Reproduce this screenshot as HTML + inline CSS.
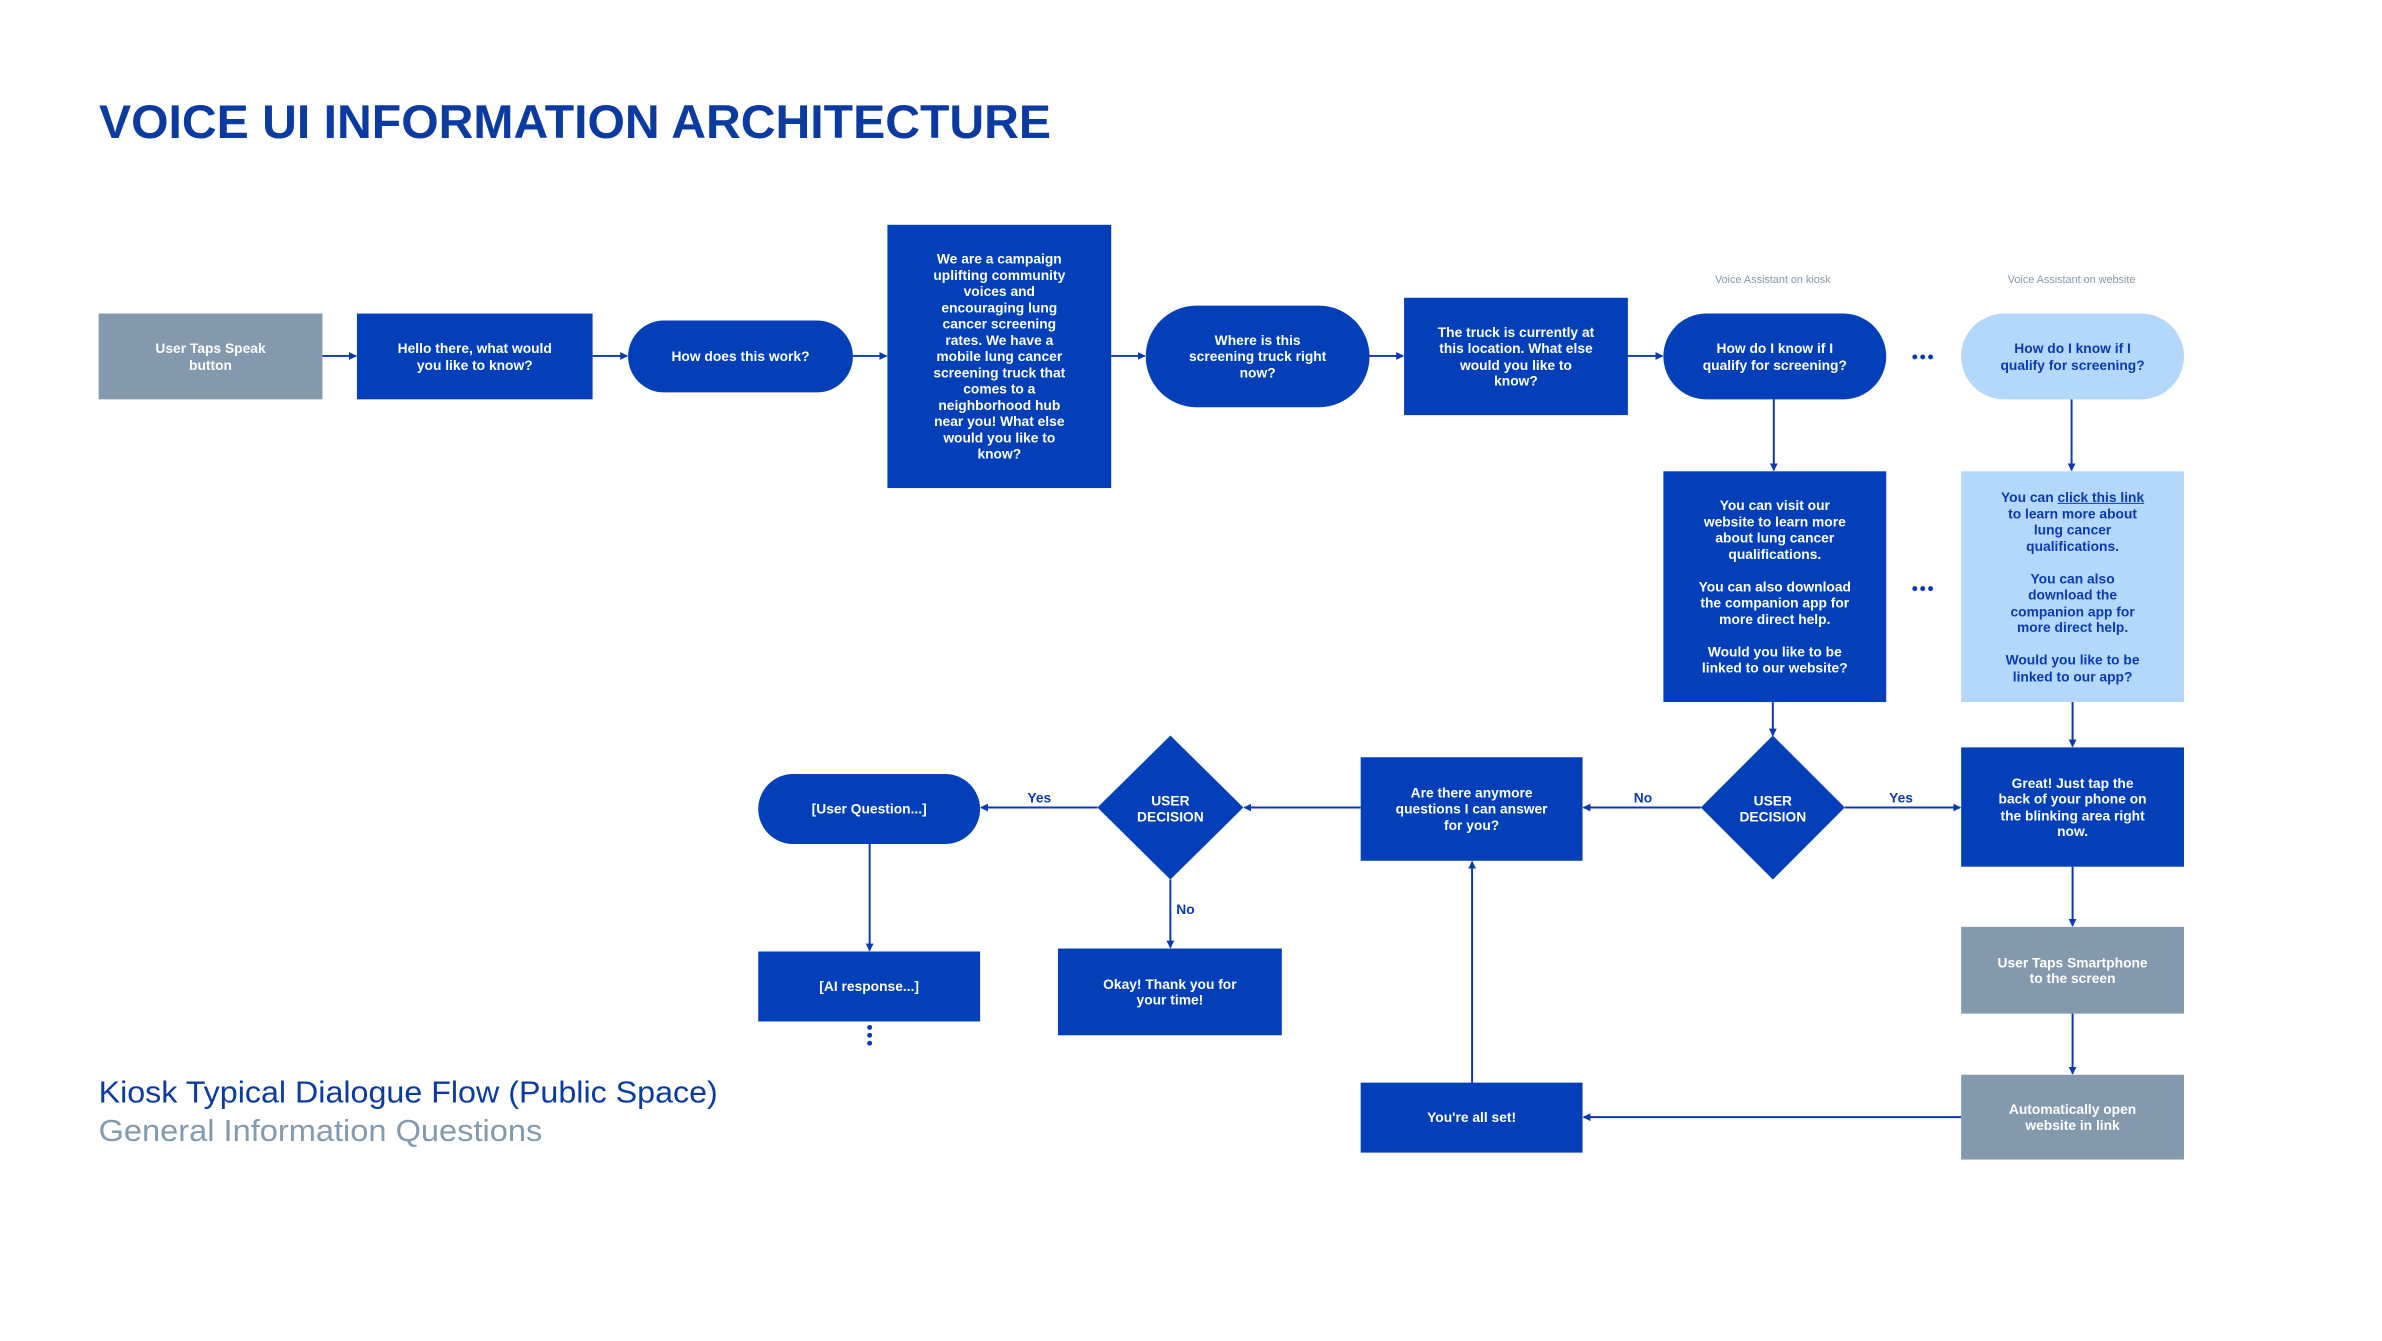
<!DOCTYPE html>
<html><head><meta charset="utf-8"><style>
body{margin:0;width:2382px;height:1341px;background:#fff;position:relative;overflow:hidden;font-family:"Liberation Sans",sans-serif}
#w{position:absolute;left:0;top:0;width:2382px;height:1341px;transform:scale(0.986);transform-origin:0 0}
.n{position:absolute;display:flex;align-items:center;justify-content:center;text-align:center;color:#fff;font-weight:bold;font-size:14px;line-height:16.5px;box-sizing:border-box;padding:0 22px}
.b{background:#023fb8}.g{background:#8399ad}.l{background:#b3d8fb;color:#0b3ab0}
.p{border-radius:40px}
.lab{position:absolute;font-size:14px;font-weight:bold;color:#0b3ab0}
svg{position:absolute;left:0;top:0}
</style></head><body>
<svg width="2382" height="1341"><text x="99" y="138" font-family="Liberation Sans" font-weight="bold" font-size="47" fill="#0b3aa0" textLength="952" lengthAdjust="spacingAndGlyphs">VOICE UI INFORMATION ARCHITECTURE</text></svg>
<div id="w">
<svg width="2382" height="1341">
<defs><marker id="a" markerWidth="8" markerHeight="8" refX="7" refY="4" orient="auto" markerUnits="userSpaceOnUse"><path d="M0,0L8,4L0,8z" fill="#0b3ab0"/></marker></defs>
<g stroke="#0b3ab0" stroke-width="2" fill="none" marker-end="url(#a)">
<line x1="327" y1="361" x2="361" y2="361"/>
<line x1="601" y1="361" x2="636" y2="361"/>
<line x1="865" y1="361" x2="899" y2="361"/>
<line x1="1127" y1="361" x2="1161" y2="361"/>
<line x1="1389" y1="361" x2="1423" y2="361"/>
<line x1="1651" y1="361" x2="1686" y2="361"/>
<line x1="1799" y1="405" x2="1799" y2="477"/>
<line x1="2101" y1="405" x2="2101" y2="477"/>
<line x1="1798" y1="712" x2="1798" y2="746"/>
<line x1="2102" y1="712" x2="2102" y2="757"/>
<line x1="1871" y1="819" x2="1988" y2="819"/>
<line x1="1725" y1="819" x2="1606" y2="819"/>
<line x1="1380" y1="819" x2="1262" y2="819"/>
<line x1="1113" y1="819" x2="995" y2="819"/>
<line x1="1187" y1="892" x2="1187" y2="961"/>
<line x1="882" y1="856" x2="882" y2="964"/>
<line x1="2102" y1="879" x2="2102" y2="939"/>
<line x1="2102" y1="1028" x2="2102" y2="1089"/>
<line x1="1989" y1="1133" x2="1606" y2="1133"/>
<line x1="1493" y1="1098" x2="1493" y2="874"/>
</g>
<polygon points="1798,746 1871,819 1798,892 1725,819" fill="#023fb8"/>
<polygon points="1187,746 1261,819 1187,892 1113,819" fill="#023fb8"/>
<g fill="#0b3ab0"><circle cx="1942" cy="362" r="2.5"/><circle cx="1950" cy="362" r="2.5"/><circle cx="1958" cy="362" r="2.5"/>
<circle cx="1942" cy="597" r="2.5"/><circle cx="1950" cy="597" r="2.5"/><circle cx="1958" cy="597" r="2.5"/>
<circle cx="882" cy="1042" r="2.5"/><circle cx="882" cy="1050" r="2.5"/><circle cx="882" cy="1058" r="2.5"/></g>
<text x="1798" y="287" text-anchor="middle" font-family="Liberation Sans" font-size="11" fill="#8399ad">Voice Assistant on kiosk</text>
<text x="2101" y="287" text-anchor="middle" font-family="Liberation Sans" font-size="11" fill="#8399ad">Voice Assistant on website</text>
<text x="100" y="1118" font-family="Liberation Sans" font-size="31" fill="#0b3aa0" textLength="628" lengthAdjust="spacingAndGlyphs">Kiosk Typical Dialogue Flow (Public Space)</text>
<text x="100" y="1157" font-family="Liberation Sans" font-size="31" fill="#8399ad" textLength="450" lengthAdjust="spacingAndGlyphs">General Information Questions</text>
</svg>
<div class="n g" style="left:100px;top:318px;width:227px;height:87px;padding:0 50px"><span>User Taps Speak button</span></div>
<div class="n b" style="left:362px;top:318px;width:239px;height:87px;padding:0 36px"><span>Hello there, what would you like to know?</span></div>
<div class="n b p" style="left:637px;top:325px;width:228px;height:73px"><span>How does this work?</span></div>
<div class="n b" style="left:900px;top:228px;width:227px;height:267px;padding:0 40px"><span>We are a campaign uplifting community voices and encouraging lung cancer screening rates. We have a mobile lung cancer screening truck that comes to a neighborhood hub near you! What else would you like to know?</span></div>
<div class="n b" style="left:1162px;top:310px;width:227px;height:103px;border-radius:52px;padding:0 40px"><span>Where is this screening truck right now?</span></div>
<div class="n b" style="left:1424px;top:302px;width:227px;height:119px;padding:0 34px"><span>The truck is currently at this location. What else would you like to know?</span></div>
<div class="n b p" style="left:1687px;top:318px;width:226px;height:87px;padding:0 30px;border-radius:44px"><span>How do I know if I qualify for screening?</span></div>
<div class="n l p" style="left:1989px;top:318px;width:226px;height:87px;padding:0 30px;border-radius:44px"><span>How do I know if I qualify for screening?</span></div>
<div class="n b" style="left:1687px;top:478px;width:226px;height:234px;padding:0 30px"><span>You can visit our website to learn more about lung cancer qualifications.<br><br>You can also download the companion app for more direct help.<br><br>Would you like to be linked to our website?</span></div>
<div class="n l" style="left:1989px;top:478px;width:226px;height:234px;padding:0 38px"><span>You can <u>click this link</u> to learn more about lung cancer qualifications.<br><br>You can also download the companion app for more direct help.<br><br>Would you like to be linked to our app?</span></div>
<div class="n b" style="left:1989px;top:758px;width:226px;height:121px;padding:0 36px"><span>Great! Just tap the back of your phone on the blinking area right now.</span></div>
<div class="n g" style="left:1989px;top:940px;width:226px;height:88px;padding:0 34px"><span>User Taps Smartphone to the screen</span></div>
<div class="n g" style="left:1989px;top:1090px;width:226px;height:86px;padding:0 40px"><span>Automatically open website in link</span></div>
<div class="n b" style="left:1380px;top:1098px;width:225px;height:71px"><span>You're all set!</span></div>
<div class="n b" style="left:1380px;top:768px;width:225px;height:105px;padding:0 30px"><span>Are there anymore questions I can answer for you?</span></div>
<div class="n b p" style="left:769px;top:785px;width:225px;height:71px;border-radius:36px"><span>[User Question...]</span></div>
<div class="n b" style="left:769px;top:965px;width:225px;height:71px"><span>[AI response...]</span></div>
<div class="n b" style="left:1073px;top:962px;width:227px;height:88px;padding:0 44px"><span>Okay! Thank you for your time!</span></div>
<div class="n" style="left:1738px;top:800px;width:120px;height:40px;padding:0"><span>USER<br>DECISION</span></div>
<div class="n" style="left:1127px;top:800px;width:120px;height:40px;padding:0"><span>USER<br>DECISION</span></div>
<div class="lab" style="left:1042px;top:801px">Yes</div>
<div class="lab" style="left:1193px;top:914px">No</div>
<div class="lab" style="left:1657px;top:801px">No</div>
<div class="lab" style="left:1916px;top:801px">Yes</div>
</div>
</body></html>
